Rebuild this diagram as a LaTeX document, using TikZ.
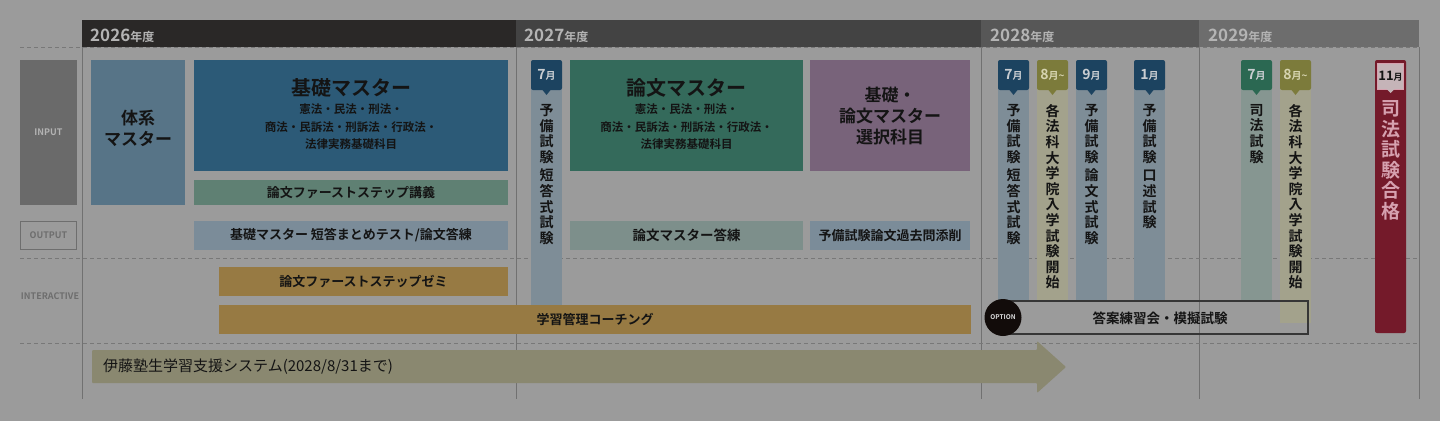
\documentclass[tikz,border=0pt]{standalone}
\usepackage{fontspec}
\setmainfont{Noto Sans CJK JP}[BoldFont={Noto Sans CJK JP Bold}]
\usetikzlibrary{shapes.geometric}
\definecolor{bg}{HTML}{9B9B9B}
\definecolor{hA}{HTML}{2A2827}
\definecolor{hB}{HTML}{434343}
\definecolor{hC}{HTML}{575757}
\definecolor{hD}{HTML}{6D6D6D}
\definecolor{htx}{HTML}{B4B4B4}
\definecolor{gline}{HTML}{717171}
\definecolor{dline}{HTML}{787878}
\definecolor{inbox}{HTML}{6A6A6A}
\definecolor{intx}{HTML}{B3B3B3}
\definecolor{lbl}{HTML}{6E6E6E}
\definecolor{txt}{HTML}{141414}
\definecolor{taikei}{HTML}{577487}
\definecolor{kiso}{HTML}{2C5A77}
\definecolor{koGr}{HTML}{5F8073}
\definecolor{outB}{HTML}{7B8C99}
\definecolor{ora}{HTML}{977A43}
\definecolor{ronb}{HTML}{346A5B}
\definecolor{sent}{HTML}{78637A}
\definecolor{outG}{HTML}{7D8F8B}
\definecolor{arr}{HTML}{8A8870}
\definecolor{tBlue}{HTML}{1C4360}
\definecolor{tOli}{HTML}{7C7B3B}
\definecolor{tGrn}{HTML}{2B6852}
\definecolor{bBlue}{HTML}{7E8D97}
\definecolor{bOli}{HTML}{A3A28C}
\definecolor{bGrn}{HTML}{869691}
\definecolor{red}{HTML}{741A2A}
\definecolor{redbox}{HTML}{C5B4B8}
\definecolor{redtx}{HTML}{D6A1AF}
\definecolor{optc}{HTML}{120C0A}
\definecolor{optb}{HTML}{363636}
\definecolor{mtxB}{HTML}{C9CDD1}
\definecolor{mtxO}{HTML}{D6D4B0}
\tikzset{
  bx/.style={inner sep=0, outer sep=0, anchor=north west, draw=none},
  tx/.style={inner sep=0, text=txt, font={\fontsize{13}{15}\selectfont\bfseries}},
  ttl/.style={inner sep=0, text=txt, font={\fontsize{20}{24}\selectfont\bfseries}},
  sub/.style={inner sep=0, text=txt, align=center, anchor=north, font={\fontsize{11.5}{17.5}\selectfont\bfseries}},
  mid/.style={inner sep=0, text=txt, align=center, font={\fontsize{17}{21}\selectfont\bfseries}},
  vtx/.style={inner sep=0, text=txt, align=center, anchor=north, font={\fontsize{14}{15.6}\selectfont\bfseries}},
  mtx/.style={inner sep=0, font={\fontsize{14}{14}\selectfont\bfseries}},
  side/.style={inner sep=0, font={\fontsize{9}{9}\selectfont\bfseries}},
  vline/.style={draw=gline, line width=0.9},
  dash line/.style={draw=dline, line width=0.8, dash pattern=on 4pt off 3pt},
  yr/.style={inner sep=0, anchor=base west, text=htx},
}
\newcommand\mo[1]{#1{\fontsize{10}{10}\selectfont 月}}
\newcommand\moT[1]{#1{\fontsize{10}{10}\selectfont 月\textasciitilde}}
\newcommand\mcol[8]{%
  \node[bx, fill=#4, minimum width=31, minimum height=#5] (#1b) at (#2,88) {};
  \node[bx, fill=#3, rounded corners=2, minimum width=31, minimum height=30] (#1h) at (#2,60) {};
  \fill[#3] ([xshift=-4pt]#1h.south) -- ([yshift=-5pt]#1h.south) -- ([xshift=4pt]#1h.south) -- cycle;
  \node[mtx, text=#7] (#1m) at (#1h.center) {#6};
  \node[vtx] (#1v) at ([yshift=-14pt]#1h.south) {#8};
}
\begin{document}
\begin{tikzpicture}[x=1pt,y=-1pt]
\useasboundingbox (0,0) rectangle (1440,421);
\fill[bg] (0,0) rectangle (1440,421);
% year headers
\node[bx, fill=hA, minimum width=434, minimum height=27] (y26) at (82,20) {};
\node[bx, fill=hB, minimum width=465, minimum height=27] (y27) at (516,20) {};
\node[bx, fill=hC, minimum width=218, minimum height=27] (y28) at (981,20) {};
\node[bx, fill=hD, minimum width=220, minimum height=27] (y29) at (1199,20) {};
\node[yr] (t26) at (90,41) {{\fontsize{17}{17}\selectfont\bfseries 2026}{\fontsize{12}{12}\selectfont\bfseries 年度}};
\node[yr] (t27) at (524,41) {{\fontsize{17}{17}\selectfont\bfseries 2027}{\fontsize{12}{12}\selectfont\bfseries 年度}};
\node[yr] (t28) at (990,41) {{\fontsize{17}{17}\selectfont\bfseries 2028}{\fontsize{12}{12}\selectfont\bfseries 年度}};
\node[yr] (t29) at (1208,41) {{\fontsize{17}{17}\selectfont\bfseries 2029}{\fontsize{12}{12}\selectfont\bfseries 年度}};
% grid
\draw[vline] (82,47) -- (82,399);
\draw[vline] (516,47) -- (516,399);
\draw[vline] (981.5,47) -- (981.5,399);
\draw[vline] (1199,47) -- (1199,399);
\draw[vline] (1419,47) -- (1419,399);
\draw[dash line] (20,47) -- (1419,47);
\draw[dash line] (20,258.5) -- (1419,258.5);
\draw[dash line] (20,343) -- (1419,343);
% side labels
\node[bx, fill=inbox, minimum width=57, minimum height=145] (inp) at (20,60) {};
\node[side, text=intx] (inpt) at (inp.center) {INPUT};
\node[bx, draw=lbl, line width=1.4, minimum width=56, minimum height=28] (outp) at (20.5,221.5) {};
\node[side, text=lbl] (outpt) at (outp.center) {OUTPUT};
\node[side, text=lbl] (inter) at (50,296) {INTERACTIVE};
% 2026
\node[bx, fill=taikei, minimum width=94, minimum height=145] (taikeiB) at (91,60) {};
\node[mid] (taikeiT) at (138,128) {体系\\マスター};
\node[bx, fill=kiso, minimum width=314, minimum height=111] (kisoB) at (194,60) {};
\node[ttl] (kisoT) at (351,88) {基礎マスター};
\node[sub] (kisoS) at (351,104) {憲法・民法・刑法・\\商法・民訴法・刑訴法・行政法・\\法律実務基礎科目};
\node[bx, fill=koGr, minimum width=314, minimum height=25] (fsB) at (194,180) {};
\node[tx] (fsT) at (fsB.center) {論文ファーストステップ講義};
\node[bx, fill=outB, minimum width=314, minimum height=29] (kotB) at (194,221) {};
\node[tx] (kotT) at (kotB.center) {基礎マスター 短答まとめテスト/論文答練};
\node[bx, fill=ora, minimum width=289, minimum height=29] (zemiB) at (219,267) {};
\node[tx] (zemiT) at (zemiB.center) {論文ファーストステップゼミ};
% 2027
\mcol{a}{531}{tBlue}{bBlue}{220}{\mo{7}}{mtxB}{予\\備\\試\\験\\[3pt]短\\答\\式\\試\\験}
\node[bx, fill=ronb, minimum width=233, minimum height=111] (ronB) at (570,60) {};
\node[ttl] (ronT) at (686.5,88) {論文マスター};
\node[sub] (ronS) at (686.5,104) {憲法・民法・刑法・\\商法・民訴法・刑訴法・行政法・\\法律実務基礎科目};
\node[bx, fill=sent, minimum width=160, minimum height=111] (senB) at (810,60) {};
\node[mid] (senT) at (890,116) {基礎・\\論文マスター\\選択科目};
\node[bx, fill=outG, minimum width=233, minimum height=29] (rotB) at (570,221) {};
\node[tx, font={\fontsize{13.5}{15}\selectfont\bfseries}] (rotT) at (rotB.center) {論文マスター答練};
\node[bx, fill=outB, minimum width=160, minimum height=29] (katB) at (810,221) {};
\node[tx] (katT) at (katB.center) {予備試験論文過去問添削};
% 2028
\mcol{b}{998}{tBlue}{bBlue}{213}{\mo{7}}{mtxB}{予\\備\\試\\験\\[3pt]短\\答\\式\\試\\験}
\mcol{c}{1037}{tOli}{bOli}{213}{\moT{8}}{mtxO}{各\\法\\科\\大\\学\\院\\入\\学\\試\\験\\開\\始}
\mcol{d}{1076}{tBlue}{bBlue}{213}{\mo{9}}{mtxB}{予\\備\\試\\験\\[3pt]論\\文\\式\\試\\験}
\mcol{e}{1134}{tBlue}{bBlue}{213}{\mo{1}}{mtxB}{予\\備\\試\\験\\[3pt]口\\述\\試\\験}
% 2029
\mcol{f}{1241}{tGrn}{bGrn}{213}{\mo{7}}{mtxB}{司\\法\\試\\験}
\mcol{g}{1280}{tOli}{bOli}{235}{\moT{8}}{mtxO}{各\\法\\科\\大\\学\\院\\入\\学\\試\\験\\開\\始}
\node[bx, fill=red, rounded corners=2, minimum width=31, minimum height=273] (passB) at (1375,60) {};
\node[bx, fill=redbox, draw=redtx, line width=0.6, minimum width=26, minimum height=26] (passH) at (1377.5,63) {};
\fill[redbox] ([xshift=-4pt]passH.south) -- ([yshift=-4pt]passH.south) -- ([xshift=4pt]passH.south) -- cycle;
\node[inner sep=0, text=txt, font={\fontsize{13}{13}\selectfont\bfseries}] (passM) at (passH.center) {11{\fontsize{9}{9}\selectfont 月}};
\node[inner sep=0, align=center, anchor=north, text=redtx, font={\fontsize{19}{20.5}\selectfont\bfseries}] (passT) at (1390.5,100.5) {司\\法\\試\\験\\合\\格};
% coaching
\node[bx, fill=ora, minimum width=752, minimum height=29] (coachB) at (219,305) {};
\node[tx] (coachT) at (595,319.5) {学習管理コーチング};
% option
\node[bx, draw=optb, line width=1.3, minimum width=305, minimum height=33] (optB) at (1003,301) {};
\node[tx, font={\fontsize{13.5}{15}\selectfont\bfseries}] (optT) at (1160,318) {答案練習会・模擬試験};
\node[circle, fill=optc, minimum size=37, inner sep=0, text=white!85!black, font={\fontsize{6.5}{6.5}\selectfont\bfseries}] (opt) at (1003,317.5) {OPTION};
% support system arrow
\fill[arr, rounded corners=1] (92,350) -- (1037,350) -- (1037,341) -- (1066,367) -- (1037,393) -- (1037,383) -- (92,383) -- cycle;
\node[inner sep=0, anchor=west, text=txt, font={\fontsize{15}{17}\selectfont}] (sysT) at (103,367) {伊藤塾生学習支援システム(2028/8/31まで)};
\end{tikzpicture}
\end{document}
